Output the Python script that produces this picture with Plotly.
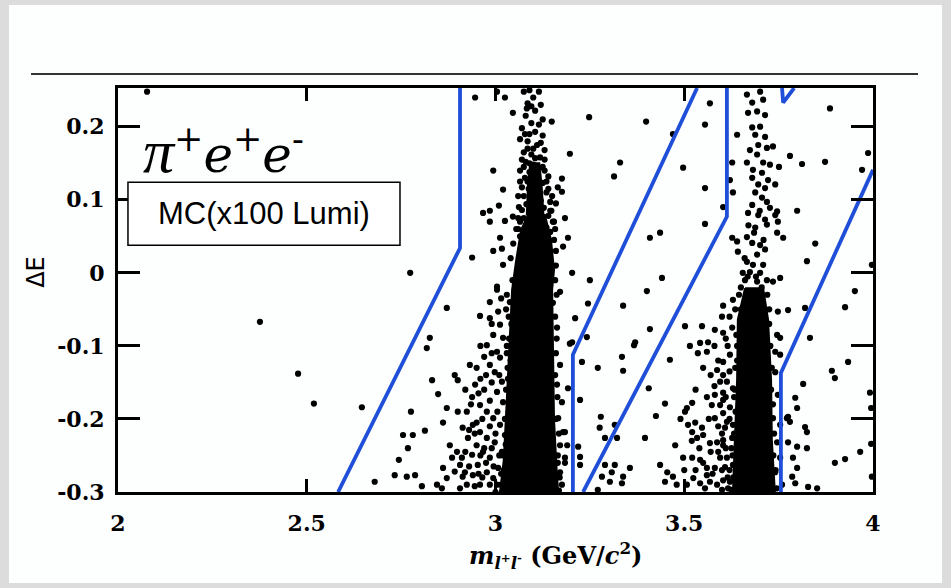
import plotly.graph_objects as go

# ---------------- data ----------------
x_ticks = [2, 2.5, 3, 3.5, 4]
x_ticktext = ["2", "2.5", "3", "3.5", "4"]
y_ticks = [-0.3, -0.2, -0.1, 0, 0.1, 0.2]
y_ticktext = ["-0.3", "-0.2", "-0.1", "0", "0.1", "0.2"]
x_range = [2, 4]
y_range = [-0.3, 0.253]

# dense (saturated) regions of the J/psi and psi(2S) bands: outline of the solid black area
jpsi_core_x = [3.086, 3.131, 3.147, 3.155, 3.150, 3.152, 3.155, 3.162, 3.166,
               3.012, 3.022, 3.030, 3.040, 3.044, 3.055, 3.068]
jpsi_core_y = [0.079, 0.079, 0.045, 0.004, -0.023, -0.105, -0.201, -0.270, -0.300,
               -0.300, -0.256, -0.174, -0.078, -0.023, 0.018, 0.059]
jpsi_column_x = [3.092, 3.116, 3.122, 3.127, 3.083, 3.086]
jpsi_column_y = [0.150, 0.150, 0.120, 0.080, 0.080, 0.120]
psi2s_core_x = [3.661, 3.709, 3.722, 3.730, 3.732, 3.740, 3.629, 3.635, 3.640, 3.642]
psi2s_core_y = [-0.021, -0.021, -0.064, -0.147, -0.229, -0.300, -0.300, -0.229, -0.147, -0.064]

left_pts = [(2.077, 0.248), (2.376, -0.067), (2.477, -0.138), (2.519, -0.179), (2.646, -0.184),
            (2.776, -0.190), (2.680, -0.286), (2.733, -0.277), (2.744, -0.256), (2.768, -0.240),
            (2.755, -0.222), (2.781, -0.222), (2.765, -0.279), (2.787, -0.277), (2.774, 0.0),
            (2.813, -0.216), (2.805, -0.292), (2.826, -0.089), (2.818, -0.103), (2.832, -0.147),
            (2.848, -0.166), (2.871, -0.048)]

jpsi_top_pts = [(2.946, 0.240), (3.004, 0.248), (3.025, 0.240), (3.046, 0.219), (3.125, 0.210),
                (3.149, 0.207), (3.197, 0.163), (2.994, 0.140), (3.176, 0.129), (3.020, 0.114),
                (3.176, 0.111), (3.009, 0.092), (2.967, 0.082), (2.985, 0.085), (2.985, 0.070),
                (3.025, 0.071), (3.046, 0.077), (3.184, 0.075), (3.012, 0.048), (3.192, 0.048),
                (2.994, 0.030), (3.017, 0.033), (3.179, 0.036), (2.938, 0.021), (3.020, 0.011),
                (3.203, 0.0), (3.004, -0.019),
                (3.09, 0.250), (3.115, 0.248), (3.10, 0.240), (3.085, 0.232), (3.075, 0.248),
                (3.08, 0.215), (3.095, 0.205), (3.115, 0.203), (3.07, 0.198), (3.105, 0.193),
                (3.125, 0.188), (3.065, 0.183), (3.085, 0.180), (3.11, 0.175), (3.13, 0.168),
                (3.075, 0.165), (3.095, 0.162), (3.118, 0.158), (3.08, 0.152), (3.10, 0.148),
                (3.125, 0.145), (3.065, 0.140), (3.09, 0.138), (3.112, 0.134), (3.14, 0.132),
                (3.078, 0.130), (3.10, 0.125), (3.125, 0.123), (3.07, 0.117), (3.088, 0.115),
                (3.11, 0.112), (3.135, 0.110), (3.075, 0.105), (3.098, 0.103), (3.12, 0.099),
                (3.145, 0.097), (3.082, 0.094), (3.105, 0.092), (3.128, 0.089), (3.07, 0.086),
                (3.095, 0.084), (3.117, 0.080), (3.14, 0.078), (3.16, 0.095), (3.165, 0.117),
                (3.075, 0.075), (3.09, 0.070), (3.105, 0.068), (3.12, 0.065), (3.135, 0.062),
                (3.08, 0.058), (3.095, 0.055), (3.11, 0.053), (3.13, 0.050), (3.145, 0.056),
                (3.065, 0.050), (3.085, 0.045), (3.10, 0.042), (3.12, 0.040), (3.14, 0.038),
                (3.07, 0.035), (3.155, 0.045),
                (3.083, 0.225), (3.105, 0.222), (3.095, 0.228), (3.12, 0.230), (3.078, 0.190),
                (3.09, 0.190), (3.12, 0.178), (3.10, 0.170), (3.085, 0.170), (3.13, 0.155),
                (3.07, 0.155), (3.105, 0.157), (3.09, 0.150), (3.13, 0.140), (3.115, 0.143),
                (3.075, 0.145), (3.135, 0.125), (3.085, 0.125), (3.14, 0.115), (3.065, 0.125),
                (3.06, 0.105), (3.15, 0.105), (3.062, 0.090), (3.148, 0.085), (3.155, 0.070),
                (3.065, 0.070), (3.06, 0.060)]

jpsi_low_pts = [(2.959, -0.059), (2.985, -0.040), (3.004, -0.023), (2.861, -0.205), (2.892, -0.140),
                (2.900, -0.147), (2.871, -0.185), (2.900, -0.190), (2.879, -0.236), (2.898, -0.245),
                (2.885, -0.253), (2.906, -0.263), (2.861, -0.267), (2.892, -0.272), (2.913, -0.279),
                (2.871, -0.281), (2.858, -0.295), (2.845, -0.290), (2.924, -0.290), (2.906, -0.295),
                (2.932, -0.126), (2.950, -0.130), (2.946, -0.153), (2.938, -0.170), (2.959, -0.181),
                (2.977, -0.190), (2.940, -0.208), (2.959, -0.218), (2.977, -0.226), (2.950, -0.236),
                (2.967, -0.245), (2.985, -0.253), (2.953, -0.263), (2.977, -0.273), (2.994, -0.281),
                (2.959, -0.290), (3.004, -0.290), (2.985, -0.126), (3.004, -0.108), (2.977, -0.099),
                (2.994, -0.085), (3.012, -0.071), (2.985, -0.062), (3.007, -0.053), (3.020, -0.089),
                (3.012, -0.116), (2.998, -0.136), (3.017, -0.149), (3.004, -0.163), (3.020, -0.177),
                (2.994, -0.199), (3.012, -0.208), (3.025, -0.222), (2.998, -0.232), (3.017, -0.245),
                (3.030, -0.259), (3.007, -0.267), (3.025, -0.281), (2.924, -0.190), (2.913, -0.212),
                (2.927, -0.226), (2.938, -0.249), (2.919, -0.273), (2.940, -0.277), (2.911, -0.253),
                (3.03, -0.03), (3.035, -0.06), (3.03, -0.10), (3.032, -0.13), (3.028, -0.16),
                (3.035, -0.19), (3.033, -0.24), (3.018, -0.30), (3.035, -0.285),
                (2.99, -0.11), (2.97, -0.115), (2.96, -0.145), (2.97, -0.16), (2.985, -0.175),
                (2.965, -0.20), (2.985, -0.21), (2.95, -0.205), (2.97, -0.24), (2.99, -0.24),
                (2.96, -0.25), (2.975, -0.26), (2.995, -0.265), (2.965, -0.28), (2.985, -0.29),
                (2.945, -0.292), (2.93, -0.265), (2.955, -0.275), (2.92, -0.245), (2.945, -0.22),
                (2.93, -0.215), (2.935, -0.18), (2.955, -0.165), (2.92, -0.16), (2.975, -0.14),
                (2.96, -0.10), (2.99, -0.15), (3.005, -0.19), (3.01, -0.25), (3.0, -0.30),
                (2.99, -0.07), (3.015, -0.035), (3.01, -0.14), (3.0, -0.22), (3.015, -0.275),
                (3.040, 0.02), (3.045, -0.01), (3.038, -0.04), (3.042, -0.07), (3.036, -0.09),
                (3.040, -0.12), (3.033, -0.145), (3.038, -0.17), (3.030, -0.20), (3.036, -0.215),
                (3.027, -0.235), (3.032, -0.26), (3.022, -0.27), (3.015, -0.29), (3.026, -0.295),
                (3.02, -0.25), (3.025, -0.20), (3.03, -0.11), (3.028, -0.05), (3.047, 0.04),
                (3.055, 0.06), (3.06, 0.075)]

jpsi_right_pts = [(3.171, -0.026), (3.152, -0.041), (3.211, -0.062), (3.197, -0.097), (3.163, -0.075),
                  (3.171, -0.126), (3.163, -0.153), (3.176, -0.177), (3.166, -0.199), (3.179, -0.218),
                  (3.171, -0.236), (3.184, -0.253), (3.171, -0.273), (3.176, -0.290), (3.192, -0.158),
                  (3.16, 0.01), (3.158, -0.01), (3.16, -0.11), (3.165, -0.25),
                  (3.158, 0.06), (3.16, 0.03), (3.162, -0.03), (3.158, -0.06), (3.162, -0.09),
                  (3.158, -0.14), (3.164, -0.17), (3.16, -0.20), (3.168, -0.22), (3.165, -0.26),
                  (3.17, -0.28), (3.168, -0.298), (3.152, 0.07), (3.145, 0.085)]

mid_pts = [(3.248, 0.213), (3.399, 0.207), (3.330, 0.151), (3.314, 0.132), (3.470, 0.190),
           (3.568, 0.232), (3.555, 0.203), (3.497, 0.144), (3.555, 0.116), (3.555, 0.067),
           (3.409, 0.048), (3.436, 0.055), (3.250, -0.010), (3.441, -0.007), (3.401, -0.025),
           (3.245, -0.042), (3.338, -0.045), (3.603, -0.045), (3.409, -0.077), (3.203, -0.095),
           (3.242, -0.088), (3.370, -0.095), (3.367, -0.099), (3.502, -0.073), (3.547, -0.073),
           (3.581, -0.078), (3.603, -0.082), (3.542, -0.096), (3.563, -0.095), (3.536, -0.110),
           (3.560, -0.108), (3.229, -0.122), (3.271, -0.130), (3.335, -0.115), (3.338, -0.134),
           (3.462, -0.119), (3.603, -0.122), (3.587, -0.133), (3.603, -0.140), (3.595, -0.149),
           (3.406, -0.158), (3.224, -0.174), (3.449, -0.179), (3.507, -0.185), (3.521, -0.178),
           (3.502, -0.190), (3.560, -0.170), (3.581, -0.167), (3.603, -0.164), (3.573, -0.181),
           (3.595, -0.181), (3.279, -0.197), (3.276, -0.212), (3.425, -0.196), (3.581, -0.199),
           (3.603, -0.192), (3.613, -0.204), (3.510, -0.208), (3.529, -0.205), (3.547, -0.212),
           (3.521, -0.218), (3.550, -0.222), (3.534, -0.226), (3.184, -0.218), (3.219, -0.238),
           (3.190, -0.236), (3.224, -0.252), (3.184, -0.260), (3.224, -0.263), (3.290, -0.226),
           (3.322, -0.226), (3.316, -0.208), (3.396, -0.226), (3.476, -0.236), (3.568, -0.233),
           (3.587, -0.232), (3.603, -0.229), (3.497, -0.253), (3.521, -0.253), (3.542, -0.256),
           (3.560, -0.267), (3.581, -0.267), (3.608, -0.266), (3.595, -0.253), (3.290, -0.263),
           (3.316, -0.263), (3.308, -0.273), (3.338, -0.279), (3.303, -0.286), (3.335, -0.288),
           (3.356, -0.267), (3.282, -0.279), (3.436, -0.263), (3.455, -0.273), (3.470, -0.279),
           (3.449, -0.286), (3.524, -0.281), (3.542, -0.288), (3.568, -0.286), (3.587, -0.290),
           (3.603, -0.284), (3.560, -0.277), (3.507, -0.290), (3.271, -0.297)]

psi2s_left_pts = [(3.629, -0.037), (3.627, -0.075), (3.648, -0.078), (3.621, -0.112), (3.635, -0.130),
                  (3.613, -0.149), (3.629, -0.158), (3.603, -0.174), (3.621, -0.184), (3.608, -0.212),
                  (3.629, -0.208), (3.627, -0.226), (3.603, -0.236), (3.613, -0.253), (3.629, -0.263),
                  (3.621, -0.286), (3.616, -0.295), (3.635, -0.05), (3.64, -0.10), (3.632, -0.17),
                  (3.625, -0.24), (3.638, -0.27),
                  (3.60, -0.06), (3.61, -0.09), (3.58, -0.10), (3.59, -0.12), (3.57, -0.14),
                  (3.58, -0.155), (3.61, -0.17), (3.565, -0.20), (3.59, -0.21), (3.60, -0.22),
                  (3.57, -0.245), (3.59, -0.245), (3.61, -0.24), (3.55, -0.26), (3.575, -0.275),
                  (3.60, -0.27), (3.615, -0.28), (3.53, -0.27), (3.555, -0.295), (3.60, -0.297),
                  (3.54, -0.24), (3.52, -0.23), (3.50, -0.27), (3.48, -0.29), (3.49, -0.20),
                  (3.53, -0.16), (3.515, -0.10), (3.55, -0.13), (3.62, -0.06), (3.615, -0.10),
                  (3.62, -0.135), (3.62, -0.20), (3.62, -0.27),
                  (3.645, -0.03), (3.65, -0.05), (3.638, -0.085), (3.64, -0.12), (3.634, -0.16),
                  (3.636, -0.19), (3.632, -0.22), (3.628, -0.25), (3.63, -0.28), (3.625, -0.297)]

psi2s_top_pts = [(3.666, 0.244), (3.701, 0.248), (3.680, 0.233), (3.709, 0.237), (3.669, 0.219),
                 (3.693, 0.221), (3.714, 0.216), (3.680, 0.199), (3.701, 0.200), (3.688, 0.189),
                 (3.714, 0.186), (3.696, 0.175), (3.674, 0.168), (3.719, 0.171), (3.693, 0.162),
                 (3.666, 0.151), (3.709, 0.151), (3.727, 0.148), (3.682, 0.141), (3.706, 0.137),
                 (3.680, 0.130), (3.722, 0.127), (3.696, 0.121), (3.714, 0.116), (3.688, 0.110),
                 (3.706, 0.103), (3.680, 0.093), (3.719, 0.097), (3.727, 0.089), (3.669, 0.082),
                 (3.696, 0.079), (3.741, 0.079), (3.714, 0.073), (3.748, 0.070), (3.688, 0.062),
                 (3.719, 0.066), (3.746, 0.055), (3.666, 0.049), (3.680, 0.041), (3.701, 0.038),
                 (3.714, 0.032), (3.693, 0.025), (3.666, 0.015), (3.682, 0.011), (3.709, 0.011),
                 (3.674, 0.001), (3.701, 0.0), (3.661, -0.010), (3.693, -0.012), (3.719, -0.010),
                 (3.735, -0.012), (3.640, 0.189), (3.627, 0.151), (3.621, 0.127), (3.629, 0.110),
                 (3.603, 0.090), (3.627, 0.048), (3.640, 0.043), (3.642, 0.029), (3.735, 0.173),
                 (3.741, 0.121), (3.746, 0.084), (3.754, -0.007), (3.748, -0.053), (3.754, -0.089),
                 (3.741, -0.108), (3.65, -0.02), (3.655, 0.0), (3.72, -0.03), (3.725, -0.05),
                 (3.668, -0.005), (3.69, -0.005), (3.705, -0.02), (3.66, 0.02), (3.71, 0.045),
                 (3.685, 0.055), (3.67, 0.065), (3.70, 0.085)]

right_pts = [(3.886, 0.225), (3.987, 0.164), (3.780, 0.160), (3.812, 0.149), (3.873, 0.152),
             (3.971, 0.141), (3.751, 0.145), (3.799, 0.085), (3.847, 0.040), (3.762, 0.048),
             (3.825, 0.016), (3.997, 0.011), (3.952, -0.025), (3.926, -0.047), (3.775, -0.051),
             (3.820, -0.048), (3.833, -0.089), (3.934, -0.122), (3.891, -0.134), (3.899, -0.144),
             (3.815, -0.152), (3.992, -0.164), (3.995, -0.185), (3.794, -0.171), (3.799, -0.185),
             (3.775, -0.197), (3.780, -0.204), (3.820, -0.211), (3.825, -0.218), (3.799, -0.238),
             (3.825, -0.240), (3.788, -0.253), (3.799, -0.267), (3.786, -0.279), (3.794, -0.288),
             (3.828, -0.293), (3.852, -0.295), (3.966, -0.245), (3.926, -0.255), (3.899, -0.260),
             (3.995, -0.234), (3.997, -0.279), (3.746, -0.085), (3.754, -0.112), (3.741, -0.136),
             (3.748, -0.167), (3.735, -0.199), (3.754, -0.208), (3.746, -0.232), (3.754, -0.253),
             (3.741, -0.273), (3.759, -0.290), (3.772, -0.199), (3.775, -0.232),
             (3.725, -0.07), (3.728, -0.10), (3.732, -0.13), (3.730, -0.16), (3.735, -0.18),
             (3.738, -0.22), (3.736, -0.25), (3.742, -0.27), (3.745, -0.295)]

# veto / selection boundaries (blue)
cut_a_x = [2.583, 2.906, 2.906]
cut_a_y = [-0.300, 0.034, 0.253]
cut_b_x = [3.205, 3.205, 3.534]
cut_b_y = [-0.300, -0.112, 0.253]
cut_c_x = [3.232, 3.613, 3.613]
cut_c_y = [-0.300, 0.077, 0.253]
cut_d_x = [3.756, 3.756, 4.000]
cut_d_y = [-0.300, -0.137, 0.141]
cut_e_x = [3.759, 3.762, 3.791]
cut_e_y = [0.253, 0.233, 0.253]

# ---------------- figure ----------------
BLUE = "#1f4fd8"
fig = go.Figure()

for cx, cy in [(jpsi_core_x, jpsi_core_y), (jpsi_column_x, jpsi_column_y),
               (psi2s_core_x, psi2s_core_y)]:
    fig.add_trace(go.Scatter(x=cx + [cx[0]], y=cy + [cy[0]], mode="lines", fill="toself",
                             fillcolor="black", line=dict(color="black", width=2),
                             hoverinfo="skip", showlegend=False))

all_pts = (left_pts + jpsi_top_pts + jpsi_low_pts + jpsi_right_pts + mid_pts
           + psi2s_left_pts + psi2s_top_pts + right_pts)
fig.add_trace(go.Scatter(x=[p[0] for p in all_pts], y=[p[1] for p in all_pts], mode="markers",
                         marker=dict(color="black", size=6.2, line=dict(width=0)),
                         showlegend=False))

for cx, cy in [(cut_a_x, cut_a_y), (cut_b_x, cut_b_y), (cut_c_x, cut_c_y),
               (cut_d_x, cut_d_y), (cut_e_x, cut_e_y)]:
    fig.add_trace(go.Scatter(x=cx, y=cy, mode="lines", line=dict(color=BLUE, width=3.8),
                             showlegend=False, hoverinfo="skip"))

tickfont = dict(family="DejaVu Serif", size=22, color="black", weight="bold")
axis_common = dict(showgrid=False, zeroline=False, showline=True, linecolor="black",
                   linewidth=3, mirror="ticks", ticks="inside", tickcolor="black",
                   tickwidth=2.5, tickfont=tickfont)

fig.update_xaxes(range=x_range, tickvals=x_ticks, ticktext=x_ticktext, ticklen=13,
                 ticklabelstandoff=10, **axis_common)
fig.update_yaxes(range=y_range, tickvals=y_ticks, ticktext=y_ticktext, ticklen=22,
                 ticklabelstandoff=6, **axis_common)

fig.update_layout(
    width=951, height=588,
    margin=dict(l=118, r=78, t=88, b=96),
    paper_bgcolor="#dcdcdc",
    plot_bgcolor="white",
    showlegend=False,
    shapes=[
        dict(type="rect", xref="paper", yref="paper", x0=-0.1444, x1=1.0914, y0=-0.2252, y1=1.2054,
             fillcolor="#fdfefe", line=dict(width=0), layer="below"),
        dict(type="line", xref="paper", yref="paper", x0=-0.1152, x1=1.0596, y0=1.0347, y1=1.0347,
             line=dict(color="#333333", width=2)),
        dict(type="rect", xref="paper", yref="paper", x0=0.0132, x1=0.3735, y0=0.611, y1=0.767,
             fillcolor="white", line=dict(color="black", width=1.5)),
    ],
    annotations=[
        dict(text="<span style=\"font-family:'Liberation Serif';font-size:62px\"><i>π</i></span>"
                  "<sup>+</sup><i>e</i><sup>+</sup><i>e</i><sup>-</sup>",
             xref="paper", yref="paper",
             x=0.031, y=0.845, xanchor="left", yanchor="middle", showarrow=False,
             font=dict(family="DejaVu Serif", size=50, color="black")),
        dict(text="MC(x100 Lumi)", xref="paper", yref="paper", x=0.193, y=0.689,
             xanchor="center", yanchor="middle", showarrow=False,
             font=dict(family="Liberation Sans", size=31, color="black")),
        dict(text="ΔE", xref="paper", yref="paper", x=-0.1086, y=0.545, textangle=-90,
             xanchor="center", yanchor="middle", showarrow=False,
             font=dict(family="DejaVu Sans", size=24, color="black")),
        dict(text="<i>m</i><sub><i>l</i><sup>+</sup><i>l</i><sup>-</sup></sub> (GeV/<i>c</i><sup>2</sup>)",
             xref="paper", yref="paper", x=0.58, y=-0.158, xanchor="center", yanchor="middle",
             showarrow=False, font=dict(family="DejaVu Serif", size=24, color="black", weight="bold")),
    ],
)

fig.write_html("out.html")
